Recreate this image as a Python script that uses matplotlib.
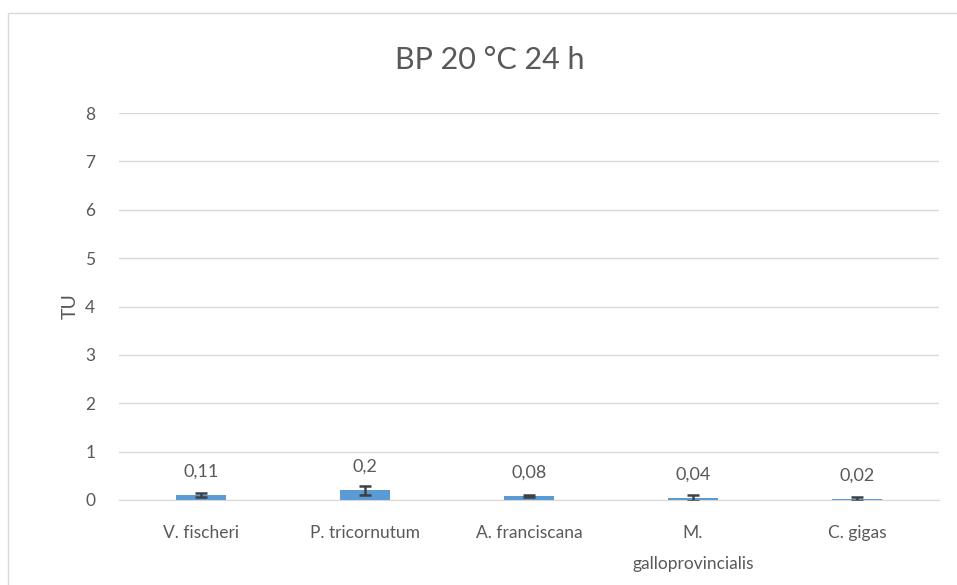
import matplotlib
matplotlib.use("Agg")
import matplotlib.pyplot as plt
from matplotlib.patches import Rectangle

categories = ["V. fischeri", "P. tricornutum", "A. franciscana", "M.\ngalloprovincialis", "C. gigas"]
values = [0.11, 0.2, 0.08, 0.04, 0.02]
errors = [0.04, 0.09, 0.02, 0.06, 0.05]
value_labels = ["0,11", "0,2", "0,08", "0,04", "0,02"]
yticks = [0, 1, 2, 3, 4, 5, 6, 7, 8]

plt.rcParams['font.family'] = ['Lato', 'DejaVu Sans']
txt = "#595959"

fig = plt.figure(figsize=(9.57, 5.85), dpi=100)
fig.patches.append(Rectangle((8/957, -0.1), 1.1, 1 - 13/585 + 0.1, transform=fig.transFigure,
                             fill=False, edgecolor="#D9D9D9", linewidth=1.0))
ax = fig.add_axes([119/957, 1 - 500/585, (939 - 119)/957, (500 - 113)/585])

x = list(range(len(categories)))
ax.bar(x, values, width=0.31, color="#5B9BD5", zorder=3)
ax.errorbar(x, values, yerr=errors, fmt='none', ecolor="#404040", elinewidth=1.8,
            capsize=4, capthick=1.8, zorder=4)
for xi, v, lab in zip(x, values, value_labels):
    ax.annotate(lab, (xi, v), xytext=(0, 11), textcoords="offset points",
                ha="center", va="bottom", fontsize=13, color=txt)

ax.set_xlim(-0.5, len(categories) - 0.5)
ax.set_ylim(0, 8)
ax.set_yticks(yticks)
ax.set_yticklabels([str(t) for t in yticks])
ax.set_xticks(x)
ax.set_xticklabels(categories, fontsize=12.5, color=txt, linespacing=2.15)
ax.tick_params(axis='y', labelsize=12.5, labelcolor=txt, length=0, pad=17)
ax.tick_params(axis='x', length=0, pad=18)
ax.grid(axis='y', color="#D9D9D9", linewidth=1.0, zorder=0)
for s in ["top", "right", "left"]:
    ax.spines[s].set_visible(False)
ax.spines["bottom"].set_color("#D9D9D9")
ax.set_ylabel("TU", fontsize=14, color=txt, labelpad=5)
fig.text(490/957, 1 - 60/585, "BP 20 °C 24 h", ha="center", va="center", fontsize=22, color=txt)

fig.savefig("out.png", dpi=100)
